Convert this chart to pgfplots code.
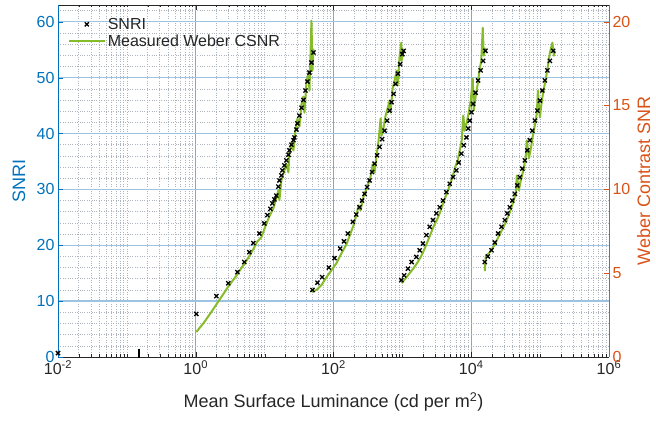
\documentclass[border=0pt]{standalone}
\usepackage{fontspec}
\setmainfont{Liberation Sans}
\usepackage{pgfplots}
\pgfplotsset{compat=1.18}
\definecolor{mblue}{HTML}{0072BD}
\definecolor{morange}{HTML}{D95319}
\definecolor{mgreen}{HTML}{86BC2A}
\definecolor{axisk}{HTML}{262626}
\definecolor{hgrid}{HTML}{9CC3E2}
\definecolor{vgrid}{HTML}{A0A0A0}
\definecolor{mgrid}{HTML}{ADB4BD}
% SNRI, left axis
\pgfplotstableread{
x y
0.01 0.7
1.02 7.7
1.99 10.9
2.97 13.2
4.02 15.2
5.07 17.0
6.00 18.75
6.86 20.4
8.39 22.1
9.91 23.9
10.96 25.4
12.12 26.5
12.97 27.5
13.87 28.2
14.8 28.9
15.85 30.5
16.4 31.6
17.52 32.5
18.1 33.4
19.38 34.3
20.7 35.2
22.16 36.2
22.9 37.0
24.50 38.0
26.20 38.8
27.1 39.3
28.96 40.7
29.9 41.8
32.03 43.2
34.3 44.6
36.6 46.0
39.2 47.7
41.87 49.3
44.8 50.9
47.86 52.7
51.2 54.5
49.5 12.0
58.5 13.3
68.5 14.3
85.4 16.0
103.4 17.7
125.2 19.4
142.1 20.7
161.4 22.1
190.9 24.2
213.8 25.5
238.9 26.8
259.8 28.0
282.4 29.2
307.2 30.4
333.9 31.6
363.1 33.1
394.9 34.6
429.3 36.1
466.9 37.6
507.6 39.0
551.9 40.5
600.1 42.3
652.3 44.1
697.6 45.6
745.9 47.1
797.6 48.9
861.5 50.7
927.6 52.4
998.4 54.2
1042.8 54.8
965.4 13.75
1060.5 14.6
1204 15.8
1363 17.0
1595 17.9
1782 19.1
1991 20.3
2231 21.8
2491 23.3
2783 24.5
3118 25.7
3482 26.8
3890 28.0
4358 29.5
4868 31.0
5437 32.2
6092 33.4
6579 34.8
7204 36.4
7780 37.9
8515 39.3
9047 40.9
9511 42.3
10067 43.8
10622 45.3
11548 47.3
12561 49.5
13655 51.3
14845 53.0
16088 54.8
15720 17.0
17378 18.0
19672 19.1
21975 20.5
24546 22.1
27499 23.3
30714 24.5
33388 25.7
36308 26.8
39480 28.0
42925 29.2
46682 30.7
50761 32.2
55191 33.7
60010 35.2
65231 37.0
70937 38.8
77140 40.5
83861 42.3
91201 44.1
99170 45.9
107817 47.7
117247 49.5
127498 51.3
138642 53.0
154830 54.8
}\snritab
% Weber CSNR, right axis, one table per sweep
\pgfplotstableread{
x y
1.02 1.49
1.33 2.08
1.68 2.68
2.05 3.21
2.51 3.75
3.07 4.29
3.75 4.76
4.59 5.30
5.61 5.83
6.86 6.43
7.84 6.90
8.97 7.14
10.25 7.80
11.72 8.39
13.4 8.87
14.83 9.52
15.85 9.94
16.39 9.35
17.52 10.54
19.38 11.13
20.72 11.49
22.16 11.01
22.91 12.20
24.50 12.80
26.20 12.32
28.02 13.51
29.95 14.23
32.03 13.75
34.24 15.06
36.6 15.54
37.86 14.58
40.5 16.37
43.3 16.96
44.77 15.89
46.3 17.98
47.86 20.06
49.5 17.08
51.2 18.39
}\webA
\pgfplotstableread{
x y
49.5 3.87
58.5 4.05
66.9 4.29
79.1 4.76
93.5 5.18
110.6 5.60
130.7 6.19
154.6 6.73
176.7 7.38
195.4 7.86
216.1 8.51
231.0 9.05
247.0 8.75
273.2 9.58
302.0 10.06
333.9 10.54
357.1 11.01
369.3 11.49
394.9 11.01
422.2 12.02
451.4 12.92
482.7 14.23
499.1 13.21
533.7 13.69
570.6 14.40
610.1 14.82
652.3 15.30
674.6 14.58
721.3 16.01
771.3 16.49
824.6 17.08
852.7 16.19
912.0 17.98
965.4 18.75
975.1 17.68
1042.8 18.39
}\webB
\pgfplotstableread{
x y
975.1 4.40
1115 4.70
1275 5.00
1457 5.30
1667 5.65
1905 6.07
2179 6.61
2491 7.20
2848 7.80
3150 8.15
3482 8.57
3851 9.11
4257 9.58
4707 10.06
5205 10.60
5566 11.01
5951 11.43
6363 11.73
6804 12.32
7275 12.92
7647 14.40
8046 13.51
8603 13.99
9196 14.58
9833 15.30
10515 16.61
10873 14.70
11628 15.60
12433 16.31
13295 17.20
13981 17.68
14699 19.64
15200 17.98
15982 18.45
}\webC
\pgfplotstableread{
x y
15720 5.12
16254 6.01
18582 6.25
21246 6.61
24290 7.08
27770 7.56
31748 8.04
36308 8.63
40142 9.17
44393 9.76
45902 10.83
49091 9.94
52481 10.54
58014 11.25
62038 12.02
64158 12.92
68622 11.85
73372 12.44
78455 13.21
83861 13.81
89688 14.58
92790 15.89
99170 14.29
106050 15.30
113380 16.01
121230 16.61
129650 17.38
138640 18.15
150770 18.75
158490 17.98
163880 18.27
}\webD
\begin{document}
\begin{tikzpicture}
% grid only: vertical lines
\begin{axis}[
  scale only axis, width=551pt, height=352pt,
  xmode=log, xmin=1e-2, xmax=1e6, ymin=0, ymax=63,
  axis line style={draw=none}, major tick length=0pt, minor tick length=0pt,
  xticklabels={}, yticklabels={}, ytick=\empty,
  xtick={0.01,1,100,10000,1000000},
  minor xtick={0.02,0.03,0.04,0.05,0.06,0.07,0.08,0.09,0.1,0.2,0.3,0.4,0.5,0.6,0.7,0.8,0.9,2,3,4,5,6,7,8,9,10,20,30,40,50,60,70,80,90,200,300,400,500,600,700,800,900,1000,2000,3000,4000,5000,6000,7000,8000,9000,20000,30000,40000,50000,60000,70000,80000,90000,100000,200000,300000,400000,500000,600000,700000,800000,900000},
  xmajorgrids=true, xminorgrids=true,
  major grid style={draw=vgrid, solid, line width=0.8pt},
  minor grid style={draw=mgrid, dotted, line width=0.6pt},
]
\end{axis}
% grid only: horizontal lines
\begin{axis}[
  scale only axis, width=551pt, height=352pt,
  xmode=log, xmin=1e-2, xmax=1e6, ymin=0, ymax=63,
  axis line style={draw=none}, major tick length=0pt, minor tick length=0pt,
  xticklabels={}, yticklabels={}, xtick=\empty, minor xtick={},
  ytick={10,20,30,40,50,60},
  minor ytick={2,4,6,8,12,14,16,18,22,24,26,28,32,34,36,38,42,44,46,48,52,54,56,58,62},
  ymajorgrids=true, yminorgrids=true,
  major grid style={draw=hgrid, solid, line width=1.4pt},
  minor grid style={draw=mgrid, dotted, line width=0.6pt},
]
\end{axis}
% right axis: Weber contrast SNR
\begin{axis}[
  scale only axis, width=551pt, height=352pt,
  xmode=log, xmin=1e-2, xmax=1e6,
  /pgf/number format/assume math mode=true,
  tick label style={font=\fontsize{16}{18}\selectfont},
  label style={font=\fontsize{18}{20}\selectfont},
  tick align=inside, major tick length=5pt, minor tick length=2.5pt,
  ymin=0, ymax=21,
  axis x line*=box, axis y line*=right,
  x axis line style={axisk, line width=0.7pt},
  y axis line style={morange, line width=0.9pt},
  xtick={0.01,1,100,10000,1000000},
  xticklabels={10\textsuperscript{-2},10\textsuperscript{0},10\textsuperscript{2},10\textsuperscript{4},10\textsuperscript{6}},
  minor xtick={0.02,0.03,0.04,0.05,0.06,0.07,0.08,0.09,0.1,0.2,0.3,0.4,0.5,0.6,0.7,0.8,0.9,2,3,4,5,6,7,8,9,10,20,30,40,50,60,70,80,90,200,300,400,500,600,700,800,900,1000,2000,3000,4000,5000,6000,7000,8000,9000,20000,30000,40000,50000,60000,70000,80000,90000,100000,200000,300000,400000,500000,600000,700000,800000,900000},
  xtick pos=both, xtick style={axisk},
  xticklabel style={text=axisk},
  ytick={0,5,10,15,20}, ytick pos=right, ytick style={morange},
  yticklabel style={text=morange},
  xlabel={Mean Surface Luminance (cd per m\textsuperscript{2})},
  xlabel style={text=axisk, at={(axis description cs:0.5,-0.143)}, anchor=base},
  ylabel={Weber Contrast SNR},
  ylabel style={text=morange, at={(axis description cs:1.063,0.5)}, anchor=center},
]
\addplot[mgreen, line width=2pt, line join=round] table {\webA};
\addplot[mgreen, line width=2pt, line join=round] table {\webB};
\addplot[mgreen, line width=2pt, line join=round] table {\webC};
\addplot[mgreen, line width=2pt, line join=round] table {\webD};
\end{axis}
% left axis: SNRI
\begin{axis}[
  scale only axis, width=551pt, height=352pt,
  xmode=log, xmin=1e-2, xmax=1e6,
  /pgf/number format/assume math mode=true,
  tick label style={font=\fontsize{16}{18}\selectfont},
  label style={font=\fontsize{18}{20}\selectfont},
  tick align=inside, major tick length=5pt, minor tick length=0pt,
  ymin=0, ymax=63,
  hide x axis, axis y line*=left,
  y axis line style={mblue, line width=0.9pt},
  ytick={0,10,20,30,40,50,60},
  ytick pos=left, ytick style={mblue},
  yticklabel style={text=mblue},
  ylabel={SNRI},
  ylabel style={text=mblue, at={(axis description cs:-0.071,0.5)}, anchor=center},
  clip=false,
  legend cell align=left,
  legend style={at={(axis description cs:0.012,0.975)}, anchor=north west, draw=none, fill=none,
    font=\fontsize{16}{19}\selectfont, text=axisk},
  legend image code/.code={\draw[mark repeat=2,mark phase=2,#1] plot coordinates {(0pt,0pt) (18pt,0pt) (36pt,0pt)};},
]
\addplot[only marks, mark=x, mark size=2.9pt, black, mark options={line width=1.3pt}] table {\snritab};
\addlegendentry{SNRI}
\addlegendimage{mgreen, line width=2pt}
\addlegendentry{Measured Weber CSNR}
\addplot[only marks, mark=|, mark size=4.5pt, black, mark options={line width=1.6pt}, forget plot] coordinates {(0.1507,0.7)};
\end{axis}
\pgfresetboundingbox
\path[use as bounding box] (-58pt,-65pt) rectangle (598pt,357pt);
\end{tikzpicture}
\end{document}
